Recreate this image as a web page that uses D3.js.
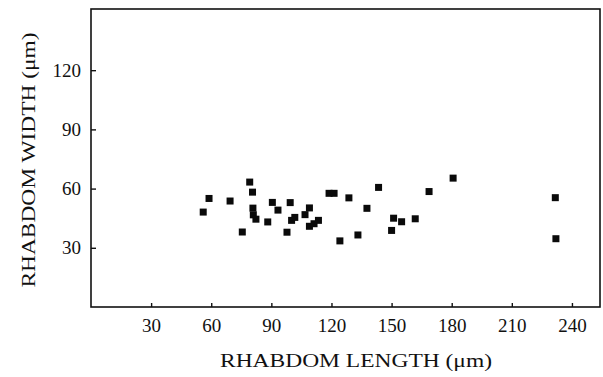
<!DOCTYPE html>
<html>
<head>
<meta charset="utf-8">
<script src="https://cdn.jsdelivr.net/npm/d3@7"></script>
<style>
	body { margin: 0; background: #fff; }
	svg { display: block; }
	text { font-family: "Liberation Serif", "Times New Roman", serif; fill: #111; }
</style>
</head>
<body>
<div class="chart"></div>
<script>
// rhabdom length vs width
let lengths = [56.0, 58.9, 69.4, 79.2, 80.6, 80.8, 81.0, 82.3, 75.5, 88.2,
	90.5, 93.3, 97.8, 99.4, 100.1, 101.7, 106.8, 109.0, 109.0, 111.3,
	113.5, 118.8, 121.3, 124.2, 128.7, 133.2, 137.7, 143.5, 150.0, 151.0,
	155.0, 161.8, 168.7, 180.7, 231.7, 232.0]
let widths = [48.1, 55.0, 53.7, 63.3, 58.2, 50.1, 46.7, 44.5, 38.0, 43.1,
	53.0, 49.1, 37.9, 52.9, 43.9, 45.4, 46.8, 50.2, 40.9, 42.2,
	43.9, 57.6, 57.6, 33.5, 55.3, 36.5, 50.0, 60.6, 38.8, 45.0,
	43.2, 44.7, 58.5, 65.3, 55.4, 34.6]
let xTicks = [30, 60, 90, 120, 150, 180, 210, 240]
let yTicks = [30, 60, 90, 120]
let xTitle = "RHABDOM LENGTH (\u03bcm)"
let yTitle = "RHABDOM WIDTH (\u03bcm)"

let width = 603
let height = 377
let m = {left: 91, right: 600, top: 9, bottom: 307}

let data = lengths.map((d, i) => ({len: d, wid: widths[i]}))

let xScale = d3.scaleLinear().domain([0, 254]).range([m.left, m.right])
let yScale = d3.scaleLinear().domain([0, 151]).range([m.bottom, m.top])

let svg = d3.select('.chart').append('svg')
	.attr('width', width)
	.attr('height', height)

// ticks point inward
let xAxis = d3.axisBottom(xScale).tickValues(xTicks).tickSize(-4).tickPadding(12)
let yAxis = d3.axisLeft(yScale).tickValues(yTicks).tickSize(-5).tickPadding(10)

let xG = svg.append('g')
	.attr('transform', 'translate(0,' + m.bottom + ')')
	.call(xAxis)

let yG = svg.append('g')
	.attr('transform', 'translate(' + m.left + ',0)')
	.call(yAxis)

svg.selectAll('.domain').remove()
svg.selectAll('.tick line').attr('stroke', '#111').attr('stroke-width', 1.4)
svg.selectAll('.tick text')
	.style('font-family', '"Liberation Serif", serif')
	.style('font-size', '19px')
	.attr('fill', '#111')
xG.selectAll('.tick text').attr('dy', '0.71em').attr('y', 12)

// frame
svg.append('rect')
	.attr('x', m.left)
	.attr('y', m.top)
	.attr('width', m.right - m.left)
	.attr('height', m.bottom - m.top)
	.attr('fill', 'none')
	.attr('stroke', '#111')
	.attr('stroke-width', 1.6)

svg.append('g').selectAll('rect.pt')
	.data(data)
	.enter()
		.append('rect')
		.attr('class', 'pt')
		.attr('x', d => xScale(d.len) - 3.5)
		.attr('y', d => yScale(d.wid) - 3.5)
		.attr('width', 7)
		.attr('height', 7)
		.attr('fill', '#0a0a0a')

svg.append('text')
	.attr('x', 356)
	.attr('y', 367)
	.attr('text-anchor', 'middle')
	.attr('textLength', 272)
	.attr('lengthAdjust', 'spacingAndGlyphs')
	.style('font-size', '19px')
	.text(xTitle)

svg.append('text')
	.attr('transform', 'translate(35,160) rotate(-90)')
	.attr('text-anchor', 'middle')
	.attr('textLength', 255)
	.attr('lengthAdjust', 'spacingAndGlyphs')
	.style('font-size', '19px')
	.text(yTitle)
</script>
</body>
</html>
